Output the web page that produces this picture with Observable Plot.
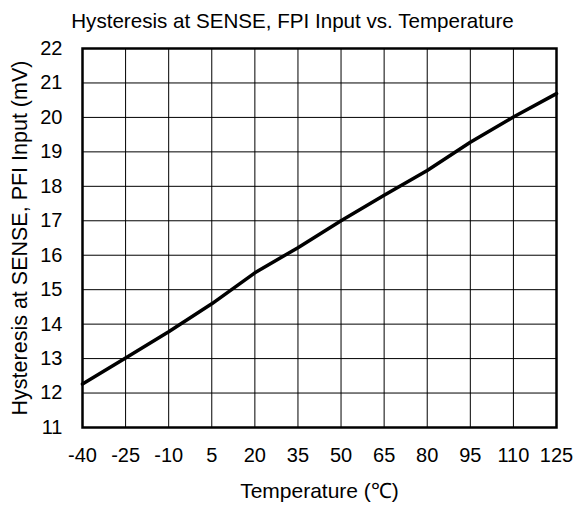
<!DOCTYPE html>
<html>
<head>
<meta charset="utf-8">
<script src="https://cdn.jsdelivr.net/npm/d3@7"></script>
<script src="https://cdn.jsdelivr.net/npm/@observablehq/plot@0.6"></script>
<style>
  html, body { margin: 0; padding: 0; background: #fff; }
</style>
</head>
<body>
<div id="chart"></div>
<script>
const title = "Hysteresis at SENSE, FPI Input vs. Temperature";
const xLabel = "Temperature (℃)";
const yLabel = "Hysteresis at SENSE, PFI Input (mV)";

const temperature = [-40, -25, -10, 5, 20, 35, 50, 65, 80, 95, 110, 125];
const hysteresis = [12.26, 13.02, 13.78, 14.59, 15.49, 16.22, 17.0, 17.74, 18.46, 19.28, 20.01, 20.69];

const xTicks = [-40, -25, -10, 5, 20, 35, 50, 65, 80, 95, 110, 125];
const yTicks = [11, 12, 13, 14, 15, 16, 17, 18, 19, 20, 21, 22];

const data = temperature.map((t, i) => ({t, h: hysteresis[i]}));
const FS = 20;

const chart = Plot.plot({
  width: 577,
  height: 509,
  marginLeft: 82,
  marginRight: 21,
  marginTop: 48,
  marginBottom: 82,
  style: {fontFamily: "'Liberation Sans', Arial, sans-serif", color: "#000", background: "#fff"},
  x: {domain: [-40, 125]},
  y: {domain: [11, 22]},
  marks: [
    Plot.gridX(xTicks, {stroke: "#000", strokeOpacity: 1, strokeWidth: 1}),
    Plot.gridY(yTicks, {stroke: "#000", strokeOpacity: 1, strokeWidth: 1}),
    Plot.axisX({ticks: xTicks, tickSize: 0, tickPadding: 20, fontSize: FS, label: null, tickFormat: d => String(d)}),
    Plot.axisY({ticks: yTicks, tickSize: 0, tickPadding: 20, fontSize: FS, label: null, tickFormat: d => String(d)}),
    Plot.line(data, {x: "t", y: "h", stroke: "#000", strokeWidth: 3.5}),
    Plot.frame({stroke: "#000", strokeWidth: 2.5}),
    Plot.text([title], {frameAnchor: "top", dx: -27, dy: -35, fontSize: 20.6, text: d => d}),
    Plot.text([xLabel], {frameAnchor: "bottom", dy: 70, fontSize: 21, text: d => d}),
    Plot.text([yLabel], {frameAnchor: "left", textAnchor: "middle", dx: -62, rotate: -90, fontSize: 21.5, text: d => d})
  ]
});
document.getElementById("chart").appendChild(chart);
</script>
</body>
</html>
